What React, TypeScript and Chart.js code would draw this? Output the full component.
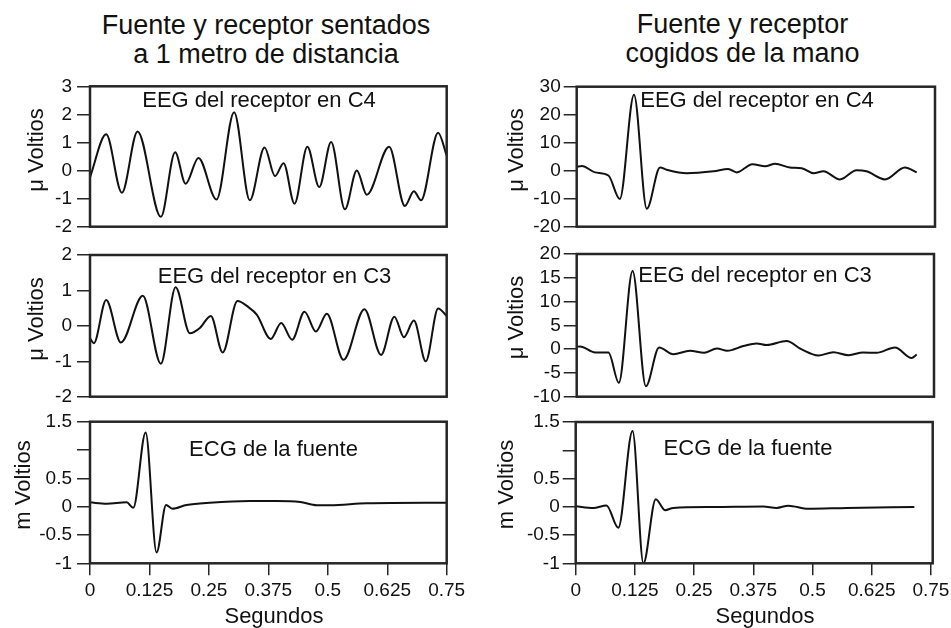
import React, { useEffect, useRef } from 'react';
import { Chart, registerables } from 'chart.js';

Chart.register(...registerables);

const FONT = '"Liberation Sans", Arial, Helvetica, sans-serif';
const INK = '#111111';
const FRAME = '#262626';

// ---------- data (seconds / values) ----------
// Left column: "Fuente y receptor sentados a 1 metro de distancia"
const tSentC4 = [0, 0.034, 0.067, 0.1, 0.149, 0.179, 0.201, 0.228, 0.266, 0.303, 0.336, 0.367, 0.389, 0.407, 0.43, 0.457, 0.482, 0.507, 0.536, 0.561, 0.582, 0.629, 0.662, 0.681, 0.696, 0.732, 0.75];
const vSentC4 = [-0.24, 1.29, -0.79, 1.39, -1.65, 0.65, -0.47, 0.45, -1.03, 2.08, -1.06, 0.82, -0.2, 0.26, -1.18, 0.85, -0.59, 1.02, -1.38, 0.0, -0.86, 0.85, -1.26, -0.74, -1.06, 1.35, 0.53];

const tSentC3 = [0, 0.008, 0.034, 0.065, 0.111, 0.149, 0.18, 0.21, 0.231, 0.254, 0.279, 0.31, 0.333, 0.351, 0.38, 0.402, 0.425, 0.451, 0.475, 0.498, 0.533, 0.577, 0.612, 0.64, 0.66, 0.681, 0.706, 0.732, 0.75];
const vSentC3 = [-0.35, -0.49, 0.73, -0.47, 0.85, -1.07, 1.09, -0.21, -0.06, 0.28, -0.75, 0.7, 0.53, 0.31, -0.37, 0.08, -0.39, 0.4, -0.16, 0.34, -0.96, 0.47, -0.82, 0.26, -0.32, 0.15, -1.0, 0.49, 0.28];

const tSentECG = [0, 0.035, 0.077, 0.091, 0.117, 0.14, 0.16, 0.173, 0.203, 0.252, 0.336, 0.392, 0.442, 0.477, 0.505, 0.582, 0.75];
const vSentECG = [0.076, 0.053, 0.076, -0.02, 1.31, -0.81, 0.03, -0.035, 0.03, 0.07, 0.1, 0.1, 0.082, 0.024, 0.024, 0.06, 0.07];

// Right column: "Fuente y receptor cogidos de la mano"
const tManoC4 = [0, 0.011, 0.039, 0.067, 0.091, 0.121, 0.148, 0.176, 0.19, 0.232, 0.289, 0.32, 0.338, 0.371, 0.398, 0.419, 0.45, 0.475, 0.5, 0.521, 0.556, 0.591, 0.612, 0.651, 0.693, 0.718];
const vManoC4 = [1.4, 1.7, -0.6, -1.7, -10.1, 27.1, -13.6, 1.15, 0.35, -0.9, -0.2, 0.6, -0.6, 2.3, 1.6, 2.5, 1.15, 0.9, -0.9, -0.2, -3.1, 0.2, -0.2, -3.1, 1.15, -0.6];

const tManoC3 = [0, 0.007, 0.039, 0.067, 0.089, 0.118, 0.146, 0.174, 0.204, 0.239, 0.269, 0.296, 0.318, 0.352, 0.38, 0.401, 0.443, 0.475, 0.51, 0.542, 0.574, 0.605, 0.633, 0.672, 0.707, 0.718];
const vManoC3 = [0.5, 0.57, -0.7, -0.7, -7.07, 16.4, -7.8, 0.35, -1.06, -0.35, -0.78, 0.14, -0.35, 0.64, 1.2, 0.85, 1.7, -0.07, -1.34, -0.64, -1.27, -0.7, -0.78, 0.35, -1.84, -1.13];

const tManoECG = [0, 0.037, 0.065, 0.09, 0.12, 0.143, 0.169, 0.189, 0.206, 0.291, 0.396, 0.424, 0.449, 0.491, 0.572, 0.715];
const vManoECG = [0.01, -0.02, 0.024, -0.37, 1.34, -1.0, 0.135, -0.06, -0.02, -0.005, 0.006, -0.02, 0.02, -0.035, -0.02, -0.005];

// ---------- tick values / labels ----------
const timeTicks = [0, 0.125, 0.25, 0.375, 0.5, 0.625, 0.75];
const timeTickLabels = ['0', '0.125', '0.25', '0.375', '0.5', '0.625', '0.75'];
const sentC4Ticks = [-2, -1, 0, 1, 2, 3];
const sentC4Labels = ['-2', '-1', '0', '1', '2', '3'];
const sentC3Ticks = [-2, -1, 0, 1, 2];
const sentC3Labels = ['-2', '-1', '0', '1', '2'];
const ecgTicks = [-1, -0.5, 0, 0.5, 1, 1.5];
const ecgLabels = ['-1', '-0.5', '0', '0.5', '', '1.5'];
const manoC4Ticks = [-20, -10, 0, 10, 20, 30];
const manoC4Labels = ['-20', '-10', '0', '10', '20', '30'];
const manoC3Ticks = [-10, -5, 0, 5, 10, 15, 20];
const manoC3Labels = ['-10', '-5', '0', '5', '10', '15', '20'];

type TextItem = { text: string; x: number; y: number; size: number; rotate?: boolean; baseline: CanvasTextBaseline };

type Panel = {
  key: string;
  left: number; top: number; width: number; height: number;
  x0: number; x1: number; y0: number; y1: number;
  xMax: number;
  times: number[]; values: number[];
  yMin: number; yMax: number; yTicks: number[]; yLabels: string[];
  tickPad: number;
  showX: boolean;
  texts: TextItem[];
};

const panels: Panel[] = [
  {
    key: 'p1', left: 0, top: 70, width: 475, height: 175,
    x0: 90, x1: 446.7, y0: 86.3, y1: 226.7, xMax: 0.75,
    times: tSentC4, values: vSentC4, yMin: -2, yMax: 3, yTicks: sentC4Ticks, yLabels: sentC4Labels,
    tickPad: 5, showX: false,
    texts: [
      { text: 'EEG del receptor en C4', x: 259, y: 107, size: 22, baseline: 'alphabetic' },
      { text: 'μ Voltios', x: 37, y: 150, size: 22, rotate: true, baseline: 'middle' },
    ],
  },
  {
    key: 'p2', left: 0, top: 235, width: 475, height: 175,
    x0: 90, x1: 446.7, y0: 255, y1: 396.7, xMax: 0.75,
    times: tSentC3, values: vSentC3, yMin: -2, yMax: 2, yTicks: sentC3Ticks, yLabels: sentC3Labels,
    tickPad: 5, showX: false,
    texts: [
      { text: 'EEG del receptor en C3', x: 274.5, y: 282.5, size: 22, baseline: 'alphabetic' },
      { text: 'μ Voltios', x: 37, y: 319, size: 22, rotate: true, baseline: 'middle' },
    ],
  },
  {
    key: 'p3', left: 0, top: 405, width: 475, height: 223,
    x0: 90, x1: 446.7, y0: 421.7, y1: 563.3, xMax: 0.75,
    times: tSentECG, values: vSentECG, yMin: -1, yMax: 1.5, yTicks: ecgTicks, yLabels: ecgLabels,
    tickPad: 5, showX: true,
    texts: [
      { text: 'ECG de la fuente', x: 273.5, y: 456, size: 22, baseline: 'alphabetic' },
      { text: 'm Voltios', x: 24, y: 485, size: 22, rotate: true, baseline: 'middle' },
      { text: 'Segundos', x: 274, y: 616.5, size: 22, baseline: 'middle' },
    ],
  },
  {
    key: 'p4', left: 475, top: 70, width: 476, height: 175,
    x0: 576.7, x1: 935, y0: 86.7, y1: 226.7, xMax: 0.7566,
    times: tManoC4, values: vManoC4, yMin: -20, yMax: 30, yTicks: manoC4Ticks, yLabels: manoC4Labels,
    tickPad: 3, showX: false,
    texts: [
      { text: 'EEG del receptor en C4', x: 757, y: 107, size: 22, baseline: 'alphabetic' },
      { text: 'μ Voltios', x: 517, y: 150, size: 22, rotate: true, baseline: 'middle' },
    ],
  },
  {
    key: 'p5', left: 475, top: 235, width: 476, height: 175,
    x0: 576.7, x1: 934, y0: 254, y1: 396.7, xMax: 0.7544,
    times: tManoC3, values: vManoC3, yMin: -10, yMax: 20, yTicks: manoC3Ticks, yLabels: manoC3Labels,
    tickPad: 3, showX: false,
    texts: [
      { text: 'EEG del receptor en C3', x: 755, y: 281.7, size: 22, baseline: 'alphabetic' },
      { text: 'μ Voltios', x: 516.7, y: 317.5, size: 22, rotate: true, baseline: 'middle' },
    ],
  },
  {
    key: 'p6', left: 475, top: 405, width: 476, height: 223,
    x0: 575.7, x1: 932.7, y0: 422, y1: 563.3, xMax: 0.7538,
    times: tManoECG, values: vManoECG, yMin: -1, yMax: 1.5, yTicks: ecgTicks, yLabels: ecgLabels,
    tickPad: 3, showX: true,
    texts: [
      { text: 'ECG de la fuente', x: 748, y: 455, size: 22, baseline: 'alphabetic' },
      { text: 'm Voltios', x: 506.5, y: 484.5, size: 22, rotate: true, baseline: 'middle' },
      { text: 'Segundos', x: 765, y: 616.5, size: 22, baseline: 'middle' },
    ],
  },
];

function makeFramePlugin(p: Panel) {
  return {
    id: 'frame_' + p.key,
    afterDraw(chart: any) {
      const { ctx, chartArea: a } = chart;
      ctx.save();
      ctx.strokeStyle = FRAME;
      ctx.lineWidth = 2.5;
      ctx.strokeRect(a.left, a.top, a.right - a.left, a.bottom - a.top);
      for (const t of p.texts) {
        ctx.save();
        ctx.translate(t.x - p.left, t.y - p.top);
        if (t.rotate) ctx.rotate(-Math.PI / 2);
        ctx.font = `${t.size}px ${FONT}`;
        ctx.fillStyle = INK;
        ctx.textAlign = 'center';
        ctx.textBaseline = t.baseline;
        ctx.fillText(t.text, 0, 0);
        ctx.restore();
      }
      ctx.restore();
    },
  };
}

function PanelChart({ p }: { p: Panel }) {
  const ref = useRef<HTMLCanvasElement | null>(null);
  useEffect(() => {
    if (!ref.current) return;
    const data = p.times.map((t, i) => ({ x: t, y: p.values[i] }));
    const chart = new Chart(ref.current, {
      type: 'line',
      data: {
        datasets: [
          {
            data,
            borderColor: INK,
            borderWidth: 2,
            pointRadius: 0,
            fill: false,
            cubicInterpolationMode: 'monotone',
          },
        ],
      },
      options: {
        animation: false,
        responsive: false,
        maintainAspectRatio: false,
        events: [],
        layout: {
          padding: {
            left: 0,
            top: p.y0 - p.top,
            right: p.left + p.width - p.x1,
            bottom: p.showX ? 0 : p.top + p.height - p.y1,
          },
        },
        plugins: {
          legend: { display: false },
          tooltip: { enabled: false },
          title: { display: false },
        },
        scales: {
          x: {
            type: 'linear',
            min: 0,
            max: p.xMax,
            display: p.showX,
            afterBuildTicks: (s: any) => {
              s.ticks = timeTicks.map((v) => ({ value: v }));
            },
            afterFit: (s: any) => {
              if (p.showX) s.height = p.top + p.height - p.y1;
              s.paddingLeft = 0;
              s.paddingRight = 0;
            },
            grid: { drawOnChartArea: false, drawTicks: true, tickLength: 12, color: FRAME, lineWidth: 1.5 },
            border: { display: false },
            ticks: {
              padding: 4,
              color: INK,
              autoSkip: false,
              maxRotation: 0,
              font: { family: FONT, size: 19 },
              callback: (_v: any, i: number) => timeTickLabels[i],
            },
          },
          y: {
            type: 'linear',
            min: p.yMin,
            max: p.yMax,
            afterBuildTicks: (s: any) => {
              s.ticks = p.yTicks.map((v) => ({ value: v }));
            },
            afterFit: (s: any) => {
              s.width = p.x0 - p.left;
              s.paddingTop = 0;
              s.paddingBottom = 0;
            },
            grid: { drawOnChartArea: false, drawTicks: true, tickLength: 13, color: FRAME, lineWidth: 1.5 },
            border: { display: false },
            ticks: {
              padding: p.tickPad,
              color: INK,
              autoSkip: false,
              font: { family: FONT, size: 19 },
              callback: (_v: any, i: number) => p.yLabels[i],
            },
          },
        },
      },
      plugins: [makeFramePlugin(p)],
    } as any);
    return () => chart.destroy();
  }, [p]);

  return (
    <canvas
      ref={ref}
      width={p.width}
      height={p.height}
      style={{ position: 'absolute', left: p.left, top: p.top, width: p.width, height: p.height }}
    />
  );
}

const titleStyle = (cx: number, top: number): React.CSSProperties => ({
  position: 'absolute',
  left: cx - 250,
  top,
  width: 500,
  textAlign: 'center',
  fontFamily: FONT,
  fontSize: 27,
  lineHeight: '28.7px',
  color: INK,
  whiteSpace: 'nowrap',
});

export default function App() {
  return (
    <div style={{ position: 'absolute', left: 0, top: 0, width: 951, height: 628, background: '#ffffff', overflow: 'hidden' }}>
      <div style={titleStyle(266, 11)}>
        Fuente y receptor sentados
        <br />
        a 1 metro de distancia
      </div>
      <div style={titleStyle(742.5, 10)}>
        Fuente y receptor
        <br />
        cogidos de la mano
      </div>
      {panels.map((p) => (
        <PanelChart key={p.key} p={p} />
      ))}
    </div>
  );
}
